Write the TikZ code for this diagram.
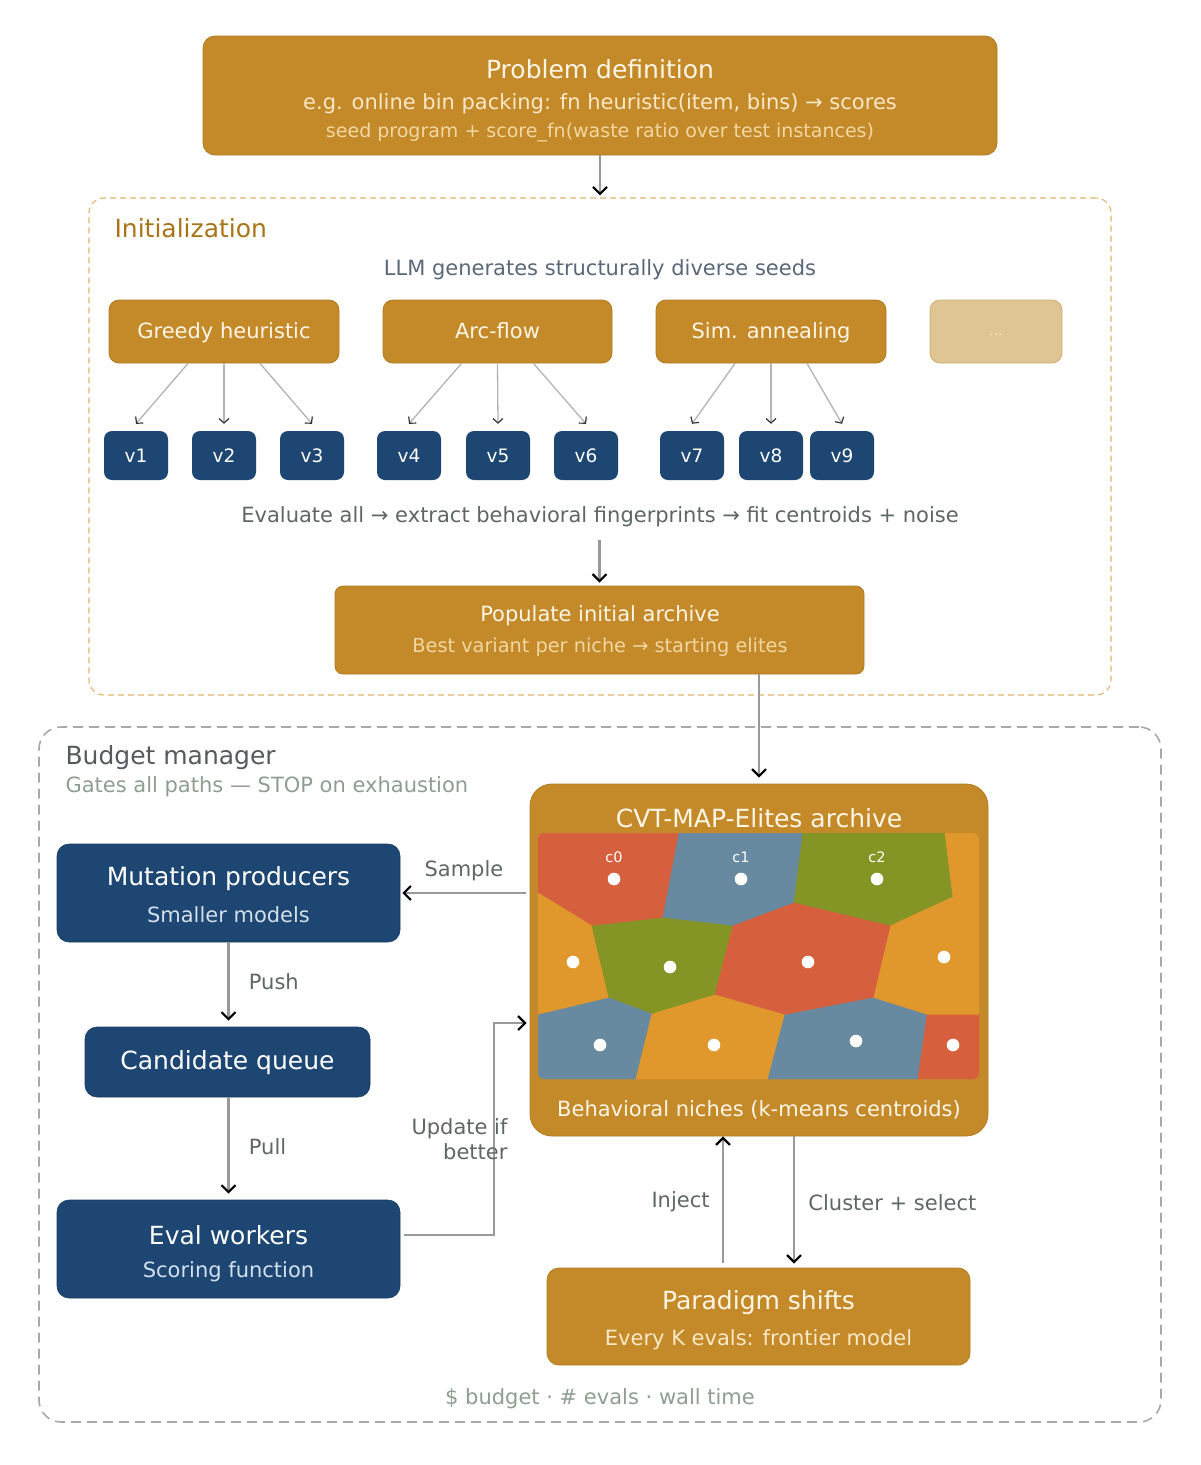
\documentclass[tikz,border=0pt]{standalone}
\usepackage{fontspec}
\setmainfont{DejaVu Sans}
\usetikzlibrary{arrows.meta,calc}
\definecolor{gold}{HTML}{C48A2A}
\definecolor{golddark}{HTML}{B27A20}
\definecolor{goldlight}{HTML}{DFC494}
\definecolor{goldlightdark}{HTML}{D2AE6C}
\definecolor{navy}{HTML}{1D4672}
\definecolor{creamA}{HTML}{FFF6E6}
\definecolor{creamB}{HTML}{FAE8C6}
\definecolor{creamC}{HTML}{F1D7A2}
\definecolor{bluesub}{HTML}{D3DFEB}
\definecolor{initdash}{HTML}{E3B56A}
\definecolor{initttl}{HTML}{A87418}
\definecolor{budgdash}{HTML}{A8A8A8}
\definecolor{budgttl}{HTML}{555A5E}
\definecolor{budgsub}{HTML}{8E9E90}
\definecolor{labgray}{HTML}{5F6666}
\definecolor{llmtext}{HTML}{5A6878}
\definecolor{linegray}{HTML}{999999}
\definecolor{thingray}{HTML}{B4B4B4}
\definecolor{vred}{HTML}{D6603E}
\definecolor{vblue}{HTML}{688AA0}
\definecolor{vgreen}{HTML}{849425}
\definecolor{vorange}{HTML}{E0982C}
\definecolor{dotsgreen}{HTML}{EEF2C0}
\begin{document}
\begin{tikzpicture}[x=1pt,y=-1pt,
  goldbox/.style={rectangle,fill=gold,draw=golddark,line width=0.8pt,rounded corners=10pt,inner sep=0pt},
  navybox/.style={rectangle,fill=navy,draw=navy!85!black,line width=0.6pt,rounded corners=12pt,inner sep=0pt},
  vbox/.style={rectangle,fill=navy,rounded corners=8pt,inner sep=0pt,minimum width=64pt,minimum height=49pt,text=white,font=\fontsize{18.5}{22}\selectfont},
  fA/.style={font=\fontsize{25}{29}\selectfont},
  fB/.style={font=\fontsize{21}{25}\selectfont},
  fC/.style={font=\fontsize{19.3}{23}\selectfont},
  fD/.style={font=\fontsize{19}{22}\selectfont},
  seedtext/.style={fB,text=creamA,text height=16pt,text depth=5pt},
  arr/.style={draw=linegray,line width=2.2pt,-{Straight Barb[length=7pt,width=14pt,line width=2.2pt,color=black]}},
  thinarr/.style={draw=thingray,line width=1.3pt,-{Straight Barb[length=4.5pt,width=10pt,line width=1.2pt,color=black!80]}},
]
\fill[white] (0,0) rectangle (1200,1465);
\useasboundingbox (0,0) rectangle (1200,1465);

% ---------- Problem definition
\node[goldbox,rounded corners=12pt,minimum width=794pt,minimum height=119pt] (prob) at (600,95.5) {};
\node[fA,text=creamA] (probT) at (600,69.5) {Problem definition};
\node[fB,text=creamB] (probL2) at (600,103.5) {e.g. online bin packing: fn heuristic(item, bins) → scores};
\node[fD,text=creamC] (probL3) at (600,132.5) {seed program + score\_fn(waste ratio over test instances)};

% ---------- Initialization container
\node[draw=initdash,dash pattern=on 6pt off 4pt,line width=1.1pt,rounded corners=15pt,minimum width=1022pt,minimum height=497pt,inner sep=0pt] (init) at (600,446.5) {};
\node[fA,text=initttl,anchor=west] (initT) at (111,228.5) {Initialization};
\node[fB,text=llmtext] (llm) at (600,269.5) {LLM generates structurally diverse seeds};

\draw[arr] (prob.south) -- ([yshift=2pt]prob.south |- init.north);

% seed boxes
\node[goldbox,minimum width=230pt,minimum height=63pt] (greedy) at (224,331.5) {};
\node[goldbox,minimum width=229pt,minimum height=63pt] (arc) at (497.5,331.5) {};
\node[goldbox,minimum width=230pt,minimum height=63pt] (sim) at (771,331.5) {};
\node[rectangle,fill=goldlight,draw=goldlightdark,line width=0.8pt,rounded corners=10pt,minimum width=132pt,minimum height=63pt] (more) at (996,331.5) {};
\node[seedtext] (greedyT) at (224,333) {Greedy heuristic};
\node[seedtext] (arcT) at (497.5,333) {Arc-flow};
\node[seedtext] (simT) at (771,333) {Sim. annealing};
\node[text=dotsgreen,font=\fontsize{14}{16}\selectfont] (moreT) at (996,335) {...};

% variants
\node[vbox] (v1) at (136,455.5) {v1};
\node[vbox] (v2) at (224,455.5) {v2};
\node[vbox] (v3) at (312,455.5) {v3};
\node[vbox] (v4) at (409,455.5) {v4};
\node[vbox] (v5) at (498,455.5) {v5};
\node[vbox] (v6) at (586,455.5) {v6};
\node[vbox] (v7) at (692,455.5) {v7};
\node[vbox] (v8) at (771,455.5) {v8};
\node[vbox] (v9) at (842,455.5) {v9};

\draw[thinarr] ([xshift=-36pt]greedy.south) -- ([yshift=7pt]v1.north);
\draw[thinarr] (greedy.south) -- ([yshift=7pt]v2.north);
\draw[thinarr] ([xshift=36pt]greedy.south) -- ([yshift=7pt]v3.north);
\draw[thinarr] ([xshift=-36pt]arc.south) -- ([yshift=7pt]v4.north);
\draw[thinarr] (arc.south) -- ([yshift=7pt]v5.north);
\draw[thinarr] ([xshift=36pt]arc.south) -- ([yshift=7pt]v6.north);
\draw[thinarr] ([xshift=-36pt]sim.south) -- ([yshift=7pt]v7.north);
\draw[thinarr] (sim.south) -- ([yshift=7pt]v8.north);
\draw[thinarr] ([xshift=36pt]sim.south) -- ([yshift=7pt]v9.north);

\node[fB,text=labgray] (evalall) at (600,516.5) {Evaluate all → extract behavioral fingerprints → fit centroids + noise};

\node[goldbox,rounded corners=8pt,minimum width=529pt,minimum height=88pt] (pop) at (599.5,630) {};
\node[fB,text=creamA] (popT) at (600,615.5) {Populate initial archive};
\node[fC,text=creamC] (popS) at (600,647.5) {Best variant per niche → starting elites};

\draw[arr] ([yshift=46pt]pop.north) -- ([yshift=3pt]pop.north);

% ---------- Budget manager container
\node[draw=budgdash,dash pattern=on 10pt off 6pt,line width=1.6pt,rounded corners=22pt,minimum width=1122pt,minimum height=695pt,inner sep=0pt] (budget) at (600,1074.5) {};
\node[fA,text=budgttl,anchor=west] (budT) at (62,757.5) {Budget manager};
\node[fB,text=budgsub,anchor=west] (budS) at (62,786.5) {Gates all paths — STOP on exhaustion};
\node[fB,text=budgsub] (budF) at (600,1398.5) {\$ budget · \# evals · wall time};

% ---------- Archive
\node[goldbox,rounded corners=22pt,minimum width=458pt,minimum height=352pt] (arch) at (759,960) {};
\node[fA,text=creamA] (archT) at (759,818.5) {CVT-MAP-Elites archive};
\node[fB,text=creamA] (archS) at (759,1109.5) {Behavioral niches (k-means centroids)};
\begin{scope}
\clip[rounded corners=6pt] (538,833) rectangle (979,1079);
\begin{scope}[line width=0.6pt]
\filldraw[fill=vred,draw=vred] (538,833) -- (679,833) -- (663,918) -- (592,926) -- (538,893) -- cycle;
\filldraw[fill=vblue,draw=vblue] (679,833) -- (803,833) -- (794,903) -- (733,926) -- (663,918) -- cycle;
\filldraw[fill=vgreen,draw=vgreen] (803,833) -- (945,833) -- (953,897) -- (890,926) -- (794,903) -- cycle;
\filldraw[fill=vorange,draw=vorange] (945,833) -- (979,833) -- (979,1015) -- (927,1015) -- (873,998) -- (890,926) -- (953,897) -- cycle;
\filldraw[fill=vorange,draw=vorange] (538,893) -- (592,926) -- (609,998) -- (538,1015) -- cycle;
\filldraw[fill=vgreen,draw=vgreen] (592,926) -- (663,918) -- (733,926) -- (715,995) -- (652,1014) -- (609,998) -- cycle;
\filldraw[fill=vred,draw=vred] (733,926) -- (794,903) -- (890,926) -- (873,998) -- (785,1015) -- (715,995) -- cycle;
\filldraw[fill=vblue,draw=vblue] (538,1015) -- (609,998) -- (652,1014) -- (636,1079) -- (538,1079) -- cycle;
\filldraw[fill=vorange,draw=vorange] (652,1014) -- (715,995) -- (785,1015) -- (768,1079) -- (636,1079) -- cycle;
\filldraw[fill=vblue,draw=vblue] (785,1015) -- (873,998) -- (927,1015) -- (918,1079) -- (768,1079) -- cycle;
\filldraw[fill=vred,draw=vred] (927,1015) -- (979,1015) -- (979,1079) -- (918,1079) -- cycle;
\end{scope}
\end{scope}
\foreach \px/\py in {614/879,741/879,877/879,573/962,670/967,808/962,944/957,600/1045,714/1045,856/1041,953/1045}
  \fill[white] (\px,\py) circle (6.3);
\node[font=\fontsize{14.5}{16}\selectfont,text=white] (c0) at (614,857) {c0};
\node[font=\fontsize{14.5}{16}\selectfont,text=white] (c1) at (741,857) {c1};
\node[font=\fontsize{14.5}{16}\selectfont,text=white] (c2) at (877,857) {c2};

\draw[arr] (arch.north |- pop.south) -- ([yshift=6pt]arch.north);

% ---------- Pipeline
\node[navybox,minimum width=343pt,minimum height=98pt] (mut) at (228.5,893) {};
\node[fA,text=white] (mutT) at (228.5,878.5) {Mutation producers};
\node[fB,text=bluesub] (mutS) at (228.5,914.5) {Smaller models};

\node[navybox,minimum width=285pt,minimum height=70pt] (queue) at (227.5,1062) {};
\node[fA,text=white] (queueT) at (227.5,1062.5) {Candidate queue};

\node[navybox,minimum width=343pt,minimum height=98pt] (eval) at (228.5,1249) {};
\node[fA,text=white] (evalT) at (228.5,1235.5) {Eval workers};
\node[fB,text=bluesub] (evalS) at (228.5,1271.5) {Scoring function};

\node[goldbox,rounded corners=12pt,minimum width=423pt,minimum height=97pt] (par) at (758.5,1316.5) {};
\node[fA,text=creamA] (parT) at (758.5,1302.5) {Paradigm shifts};
\node[fB,text=creamB] (parS) at (758.5,1339.5) {Every K evals: frontier model};

% connectors
\draw[arr] ([xshift=-4pt]arch.west |- mut.east) -- ([xshift=2pt]mut.east) node[midway,above=8pt,fB,text=labgray] (lsample) {Sample};
\draw[arr] (mut.south) -- ([yshift=6pt]mut.south |- queue.north) node[midway,right=16pt,fB,text=labgray] (lpush) {Push};
\draw[arr] (mut.south |- queue.south) -- ([yshift=6pt]mut.south |- eval.north) node[midway,right=16pt,yshift=-1.5pt,fB,text=labgray] (lpull) {Pull};
\coordinate (updbend) at (494,1023);
\draw[arr] ([xshift=4pt,yshift=14pt]eval.east) -| (updbend) -- ([xshift=-3pt]arch.west |- updbend);
\node[fB,text=labgray,align=right,anchor=east] (lupd) at (511,1139) {Update if\\better};
\draw[arr] ([xshift=-35.5pt,yshift=5pt]par.north) -- ([xshift=-35.5pt]par.north |- arch.south) node[midway,left=9pt,yshift=-2.5pt,fB,text=labgray] (linject) {Inject};
\draw[arr] ([xshift=35.5pt]par.north |- arch.south) -- ([xshift=35.5pt,yshift=4pt]par.north) node[midway,right=10pt,yshift=-2.5pt,fB,text=labgray] (lclust) {Cluster + select};
\end{tikzpicture}
\end{document}
